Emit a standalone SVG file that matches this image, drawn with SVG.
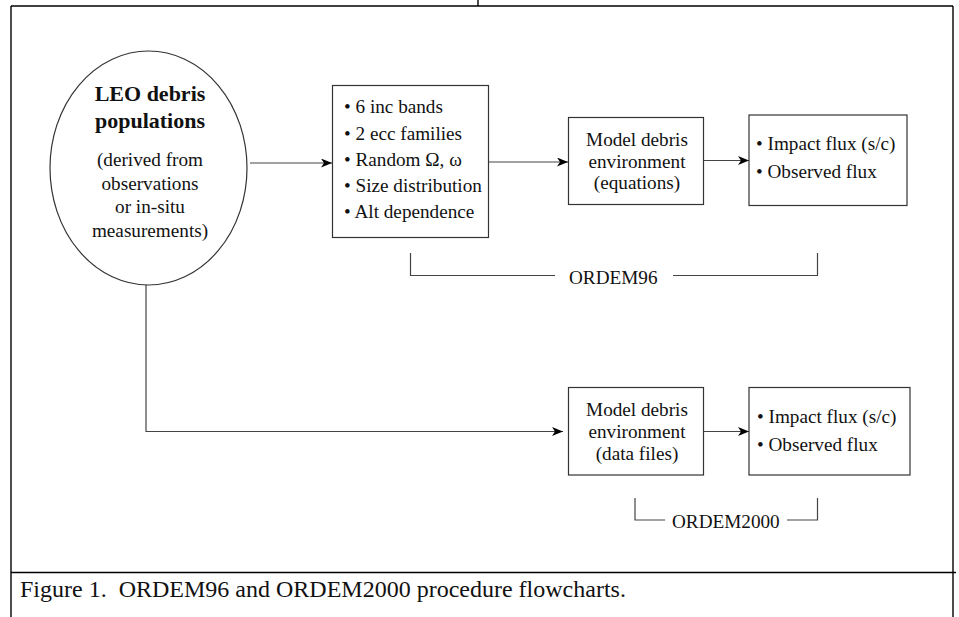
<svg xmlns="http://www.w3.org/2000/svg" width="959" height="617" viewBox="0 0 959 617">
<style>
.frame{fill:none;stroke:#000;stroke-width:1.4}
.box{fill:#fff;stroke:#333;stroke-width:1.2}
.conn{fill:none;stroke:#444;stroke-width:1.2}
text{font-family:"Liberation Serif","Times New Roman",serif;fill:#111;font-size:19.2px}
.c{text-anchor:middle}
.b{font-weight:bold;font-size:22px}
.cap{font-size:24px;white-space:pre}
</style>
<defs>
<marker id="ah" markerUnits="userSpaceOnUse" markerWidth="12" markerHeight="10" refX="11" refY="4.5" orient="auto">
<path d="M0,0 L11,4.5 L0,9 L3,4.5 z" fill="#000"/>
</marker>
</defs>
<g id="frame">
<line class="frame" x1="11" y1="6" x2="953" y2="6"/>
<line class="frame" x1="478" y1="0" x2="478" y2="6"/>
<line class="frame" x1="11" y1="6" x2="11" y2="617"/>
<line class="frame" x1="953" y1="6" x2="953" y2="617"/>
<line class="frame" x1="11" y1="572.5" x2="956" y2="572.5"/>
</g>
<g id="connectors">
<line class="conn" x1="250" y1="163" x2="332" y2="163" marker-end="url(#ah)"/>
<line class="conn" x1="489" y1="162" x2="568" y2="162" marker-end="url(#ah)"/>
<line class="conn" x1="704" y1="160.5" x2="749" y2="160.5" marker-end="url(#ah)"/>
<polyline class="conn" points="146,285 146,431.5 563,431.5" marker-end="url(#ah)"/>
<line class="conn" x1="704" y1="431.5" x2="749" y2="431.5" marker-end="url(#ah)"/>
</g>
<g id="leo">
<ellipse class="box" cx="148.5" cy="168" rx="98.5" ry="117"/>
<text class="c b" x="150" y="101">LEO debris</text>
<text class="c b" x="150" y="128">populations</text>
<text class="c" x="150" y="166">(derived from</text>
<text class="c" x="150" y="189.5">observations</text>
<text class="c" x="150" y="213">or in-situ</text>
<text class="c" x="150" y="236.5">measurements)</text>
</g>
<g id="params">
<rect class="box" x="332.5" y="85.5" width="156" height="152"/>
<text x="344" y="113">• 6 inc bands</text>
<text x="344" y="139.5">• 2 ecc families</text>
<text x="344" y="165.5">• Random Ω, ω</text>
<text x="344" y="192">• Size distribution</text>
<text x="344" y="218">• Alt dependence</text>
</g>
<g id="model96">
<rect class="box" x="568.5" y="117.5" width="135" height="87"/>
<text class="c" x="637" y="145.5">Model debris</text>
<text class="c" x="637" y="167.5">environment</text>
<text class="c" x="637" y="189">(equations)</text>
</g>
<g id="out96">
<rect class="box" x="749" y="115" width="158" height="90.5"/>
<text x="756" y="150">• Impact flux (s/c)</text>
<text x="756" y="177.5">• Observed flux</text>
</g>
<g id="model2000">
<rect class="box" x="568.5" y="387.5" width="135" height="87.5"/>
<text class="c" x="637" y="415.5">Model debris</text>
<text class="c" x="637" y="437.5">environment</text>
<text class="c" x="637" y="459.5">(data files)</text>
</g>
<g id="out2000">
<rect class="box" x="749" y="387.5" width="161" height="87.5"/>
<text x="757" y="423">• Impact flux (s/c)</text>
<text x="757" y="451">• Observed flux</text>
</g>
<g id="ordem96">
<polyline class="conn" points="410.5,253 410.5,275.5 555,275.5"/>
<polyline class="conn" points="673,275.5 817.5,275.5 817.5,253"/>
<text x="569" y="284">ORDEM96</text>
</g>
<g id="ordem2000">
<polyline class="conn" points="635,498 635,520 665,520"/>
<polyline class="conn" points="787,520 817.5,520 817.5,498"/>
<text x="672" y="528">ORDEM2000</text>
</g>
<text class="cap" x="20" y="597">Figure 1.  ORDEM96 and ORDEM2000 procedure flowcharts.</text>
</svg>
